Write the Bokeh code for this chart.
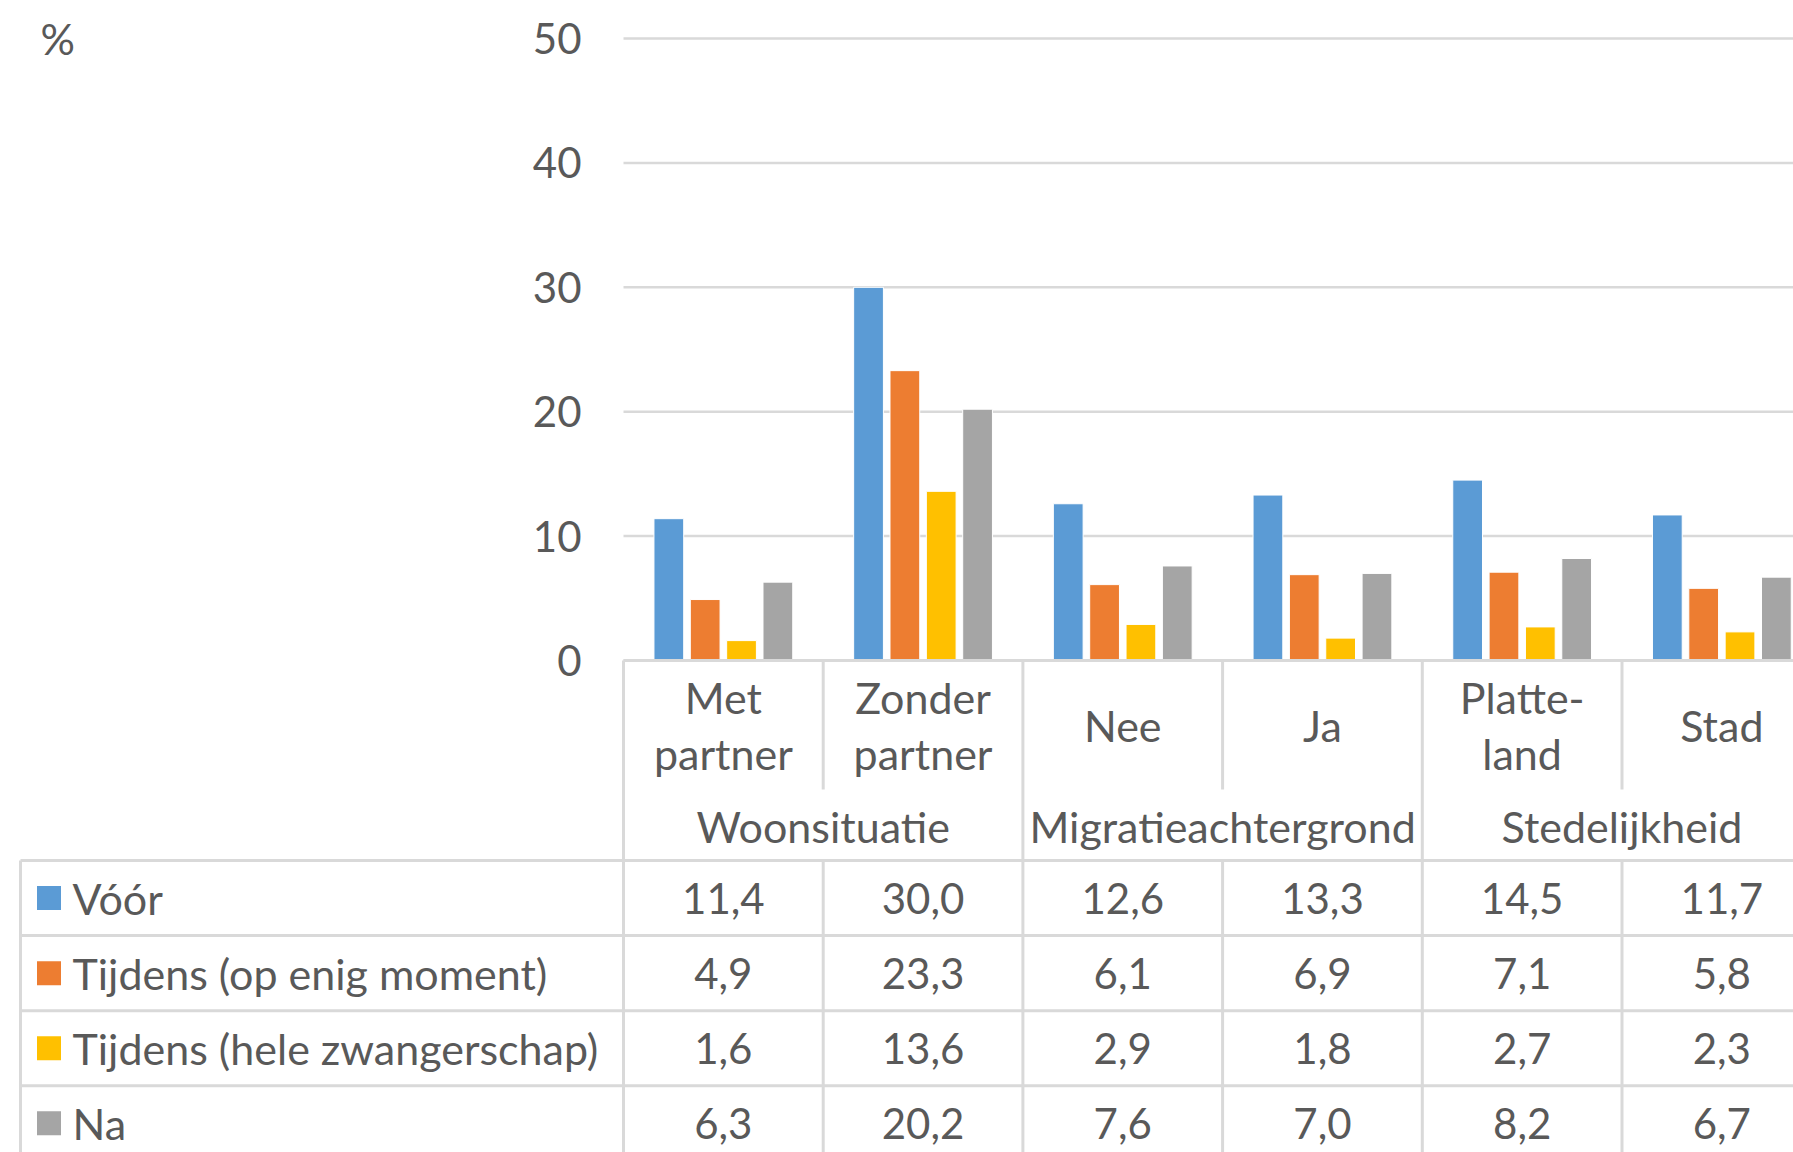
import numpy as np
from bokeh.plotting import figure
from bokeh.models import Range1d
from bokeh.embed import file_html
from bokeh.resources import INLINE
from bokeh.core.properties import value

# ---------------- data ----------------
categories = ["Met\npartner", "Zonder\npartner", "Nee", "Ja", "Platte-\nland", "Stad"]
groups = ["Woonsituatie", "Migratieachtergrond", "Stedelijkheid"]
group_sizes = [2, 2, 2]
series_names = ["Vóór", "Tijdens (op enig moment)", "Tijdens (hele zwangerschap)", "Na"]
voor = [11.4, 30.0, 12.6, 13.3, 14.5, 11.7]
tijdens_moment = [4.9, 23.3, 6.1, 6.9, 7.1, 5.8]
tijdens_heel = [1.6, 13.6, 2.9, 1.8, 2.7, 2.3]
na = [6.3, 20.2, 7.6, 7.0, 8.2, 6.7]
y_ticks = [0, 10, 20, 30, 40, 50]
y_unit_label = "%"

series_values = [voor, tijdens_moment, tijdens_heel, na]
colors = ["#5B9BD5", "#ED7D31", "#FFC000", "#A5A5A5"]

# ---------------- layout constants (pixels) ----------------
W, H = 1793, 1152
CAT_PX = 199.7          # pixels per category column
FRAME_LEFT = 623        # canvas x where the first category starts
Y0 = 660                # canvas y of value 0 / top of the table
PX_PER_UNIT = 12.44     # pixels per percent
FONT = value("Lato")
TXT = "#595959"
LINE = "#D9D9D9"
FS = "43px"
FS_NUM = "42px"

def cx(px):
    """canvas x (pixels) -> category units"""
    return (px - FRAME_LEFT) / CAT_PX

x_start, x_end = cx(0), cx(W)

p = figure(width=W, height=H,
           x_range=Range1d(x_start, x_end),
           y_range=Range1d(-(H - Y0) / PX_PER_UNIT, Y0 / PX_PER_UNIT),
           output_backend="svg", toolbar_location=None,
           x_axis_location=None, y_axis_location=None,
           min_border_left=0, min_border_right=0, min_border_top=0, min_border_bottom=0)
p.extra_y_ranges = {"table": Range1d(H - Y0, -Y0)}
p.outline_line_color = None
p.grid.visible = False

n_cat = len(categories)
n_ser = len(series_values)
centers = np.arange(n_cat) + 0.5

# ---------------- value axis ----------------
p.segment(x0=[0] * len(y_ticks), y0=y_ticks, x1=[x_end] * len(y_ticks), y1=y_ticks,
          line_color=LINE, line_width=2.5)
p.text(x=[cx(581)] * len(y_ticks), y=y_ticks, text=[str(t) for t in y_ticks],
       text_font=FONT, text_font_size=FS_NUM, text_color=TXT,
       text_align="right", text_baseline="middle")
p.text(x=[cx(40)], y=[y_ticks[-1]], text=[y_unit_label], text_font=FONT,
       text_font_size=FS, text_color=TXT, text_align="left", text_baseline="middle")

# ---------------- bars ----------------
step = 0.182
bar_w = 0.149
for k, (vals, col) in enumerate(zip(series_values, colors)):
    xs = centers + (k - (n_ser - 1) / 2) * step
    p.vbar(x=xs, top=vals, bottom=0, width=bar_w,
           fill_color=col, line_color="white", line_width=1)

# ---------------- data table ----------------
ROW1_H = 129
TABLE_TOP = 200
ROW_H = 75.1
LINE_SP = 56
x_left_border = cx(20)
key_x = cx(48.5)
name_x = cx(72)
T = dict(y_range_name="table")

p.segment(x0=[0], y0=[0], x1=[x_end], y1=[0], line_color=LINE, line_width=3, **T)
row_lines = [TABLE_TOP + k * ROW_H for k in range(n_ser + 1)]
p.segment(x0=[x_left_border] * len(row_lines), y0=row_lines,
          x1=[x_end] * len(row_lines), y1=row_lines, line_color=LINE, line_width=3, **T)
bounds = np.concatenate([[0], np.cumsum(group_sizes)])
inner = [i for i in range(n_cat + 1) if i not in bounds]
bottom = TABLE_TOP + (n_ser + 1) * ROW_H
p.segment(x0=bounds, y0=[0] * len(bounds), x1=bounds, y1=[bottom] * len(bounds),
          line_color=LINE, line_width=3, **T)
p.segment(x0=inner, y0=[0] * len(inner), x1=inner, y1=[ROW1_H] * len(inner),
          line_color=LINE, line_width=3, **T)
p.segment(x0=inner, y0=[TABLE_TOP] * len(inner), x1=inner, y1=[bottom] * len(inner),
          line_color=LINE, line_width=3, **T)
p.segment(x0=[x_left_border], y0=[TABLE_TOP], x1=[x_left_border], y1=[bottom],
          line_color=LINE, line_width=3, **T)

# category labels (one text per line)
lx, ly, lt = [], [], []
for i, c in enumerate(categories):
    parts = c.split("\n")
    for j, part in enumerate(parts):
        lx.append(centers[i])
        ly.append(ROW1_H / 2 + (j - (len(parts) - 1) / 2) * LINE_SP)
        lt.append(part)
p.text(x=lx, y=ly, text=lt, text_font=FONT, text_font_size=FS, text_color=TXT,
       text_align="center", text_baseline="middle", **T)

# group labels
gcenters = (bounds[:-1] + bounds[1:]) / 2
p.text(x=gcenters, y=[166] * len(groups), text=groups, text_font=FONT, text_font_size=FS,
       text_color=TXT, text_align="center", text_baseline="middle", **T)

# rows: legend keys, names, values
row_centers = [TABLE_TOP + (k + 0.5) * ROW_H for k in range(n_ser)]
p.scatter(x=[key_x] * n_ser, y=row_centers, marker="square", size=24,
          fill_color=colors, line_color=None, **T)
p.text(x=[name_x] * n_ser, y=row_centers, text=series_names, text_font=FONT,
       text_font_size=FS, text_color=TXT, text_align="left", text_baseline="middle", **T)
for k, vals in enumerate(series_values):
    labels = [f"{v:.1f}".replace(".", ",") for v in vals]
    p.text(x=centers, y=[row_centers[k]] * n_cat, text=labels, text_font=FONT,
           text_font_size=FS_NUM, text_color=TXT, text_align="center", text_baseline="middle", **T)

open("out.html", "w").write(file_html(p, INLINE))
